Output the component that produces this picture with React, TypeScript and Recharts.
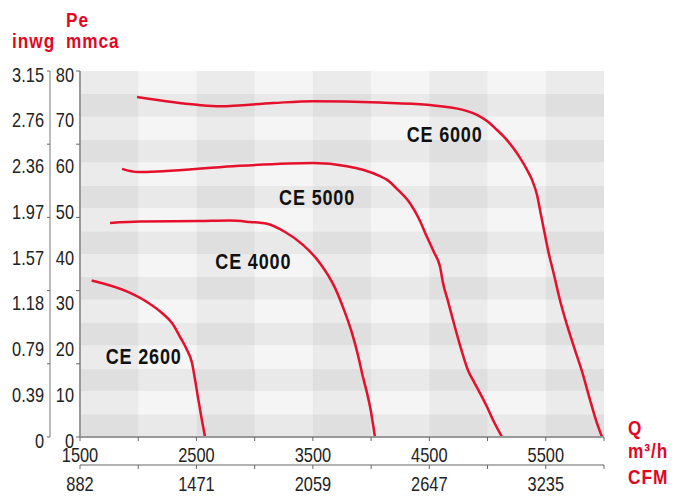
import React from 'react'
import { ComposedChart, Line, XAxis, YAxis, ReferenceArea, ReferenceDot } from 'recharts'

const FONT = "'Liberation Sans', Arial, sans-serif"
const RED = '#e3061f'
const CURVE = '#e4102c'

// flow ticks (m3/h), every 500, labels every 1000
const qTicks = [1500, 2000, 2500, 3000, 3500, 4000, 4500, 5000, 5500, 6000]
const qLabels = ['1500', '2500', '3500', '4500', '5500']
const cfmLabels = ['882', '1471', '2059', '2647', '3235']

// pressure ticks (mmca) with inwg equivalents
const mmLabels = ['0', '10', '20', '30', '40', '50', '60', '70', '80']
const inwgLabels = ['0', '0.39', '0.79', '1.18', '1.57', '1.97', '2.36', '2.76', '3.15']
const mmMarks = [0, 16, 32, 48, 64, 80]

const ce2600 = [
    { q: 1600, p: 34.2 }, { q: 1912, p: 31.7 }, { q: 2075, p: 29.5 }, { q: 2204, p: 27.1 },
    { q: 2290, p: 24.9 }, { q: 2359, p: 21.9 }, { q: 2419, p: 19.0 }, { q: 2462, p: 16.2 },
    { q: 2488, p: 12.5 }, { q: 2513, p: 8.7 }, { q: 2539, p: 4.8 }, { q: 2574, p: 0 },
]
const ce4000 = [
    { q: 1758, p: 46.8 }, { q: 2015, p: 47.1 }, { q: 2531, p: 47.2 }, { q: 2788, p: 47.3 },
    { q: 2960, p: 47.0 }, { q: 3106, p: 46.6 }, { q: 3261, p: 44.8 }, { q: 3415, p: 42.0 },
    { q: 3561, p: 38.0 }, { q: 3690, p: 32.6 }, { q: 3767, p: 27.8 }, { q: 3836, p: 22.7 },
    { q: 3887, p: 17.9 }, { q: 3930, p: 13.1 }, { q: 3965, p: 9.6 }, { q: 3991, p: 6.6 },
    { q: 4033, p: 0 },
]
const ce5000 = [
    { q: 1861, p: 58.6 }, { q: 1998, p: 57.9 }, { q: 2213, p: 58.1 }, { q: 2814, p: 59.2 },
    { q: 3501, p: 59.9 }, { q: 3793, p: 59.2 }, { q: 3930, p: 58.4 }, { q: 4076, p: 57.0 },
    { q: 4137, p: 56.2 }, { q: 4231, p: 54.0 }, { q: 4334, p: 51.1 }, { q: 4411, p: 47.7 },
    { q: 4480, p: 43.7 }, { q: 4540, p: 40.4 }, { q: 4592, p: 37.2 }, { q: 4617, p: 33.7 },
    { q: 4660, p: 29.7 }, { q: 4703, p: 25.6 }, { q: 4763, p: 20.1 }, { q: 4832, p: 14.6 },
    { q: 4884, p: 12.0 }, { q: 4935, p: 9.6 }, { q: 4995, p: 6.6 }, { q: 5047, p: 3.7 },
    { q: 5124, p: 0 },
]
const ce6000 = [
    { q: 1990, p: 74.3 }, { q: 2505, p: 72.6 }, { q: 2702, p: 72.3 }, { q: 3157, p: 73.0 },
    { q: 3501, p: 73.4 }, { q: 4076, p: 73.1 }, { q: 4480, p: 72.6 }, { q: 4789, p: 71.5 },
    { q: 4909, p: 70.4 }, { q: 5004, p: 68.9 }, { q: 5081, p: 67.1 }, { q: 5150, p: 65.4 },
    { q: 5219, p: 63.2 }, { q: 5279, p: 61.0 }, { q: 5339, p: 58.4 }, { q: 5382, p: 56.2 },
    { q: 5425, p: 52.9 }, { q: 5459, p: 48.5 }, { q: 5493, p: 44.2 }, { q: 5519, p: 40.9 },
    { q: 5571, p: 35.4 }, { q: 5622, p: 29.9 }, { q: 5682, p: 24.5 }, { q: 5751, p: 19.0 },
    { q: 5820, p: 13.6 }, { q: 5880, p: 8.1 }, { q: 5931, p: 3.7 }, { q: 5983, p: 0 },
]

const curveLabels = [
    { name: 'CE 2600', q: 2047, p: 17.8 },
    { name: 'CE 4000', q: 2988, p: 38.4 },
    { name: 'CE 5000', q: 3536, p: 52.4 },
    { name: 'CE 6000', q: 4631, p: 66.2 },
]

const rows = Array.from({ length: 16 }, (_, i) => i * 5)
const cols = qTicks.slice(0, -1)

const allYTicks = Array.from(new Set([...mmLabels.map(Number), ...mmMarks])).sort((a, b) => a - b)

// narrow text: Liberation Sans squeezed horizontally
function NText({ x, y, anchor = 'start', size = 20, weight = 400, fill = '#222', ls = 0, children }: any) {
    return (
        <text transform={`translate(${x} ${y}) scale(0.82 1)`} textAnchor={anchor} fontFamily={FONT}
            fontSize={size} fontWeight={weight} fill={fill} letterSpacing={ls}>
            {children}
        </text>
    )
}

function makeYTick(labels: string[], markLen: number) {
    return (props: any) => {
        const { x, y, payload } = props
        const v = payload.value
        const idx = mmLabels.indexOf(String(v))
        return (
            <g>
                {mmMarks.includes(v) && <line x1={x - markLen} x2={x} y1={y} y2={y} stroke="#666" strokeWidth={1} />}
                {idx >= 0 && <NText x={x - 6} y={y + 10.5} anchor="end">{labels[idx]}</NText>}
            </g>
        )
    }
}

function makeXTick(labels: string[], dy: number) {
    return (props: any) => {
        const { x, y, payload } = props
        const v = payload.value
        const idx = (v - 1500) % 1000 === 0 ? (v - 1500) / 1000 : -1
        return (
            <g>
                <line x1={x} x2={x} y1={y} y2={y + 4} stroke="#666" strokeWidth={1} />
                {idx >= 0 && idx < labels.length && <NText x={x} y={y + dy} anchor="middle">{labels[idx]}</NText>}
            </g>
        )
    }
}

export default function App() {
    return (
        <div style={{ position: 'relative', width: 674, height: 488 }}>
            <ComposedChart width={674} height={488} margin={{ top: 63, right: 78, left: 0, bottom: 0 }}>
                <XAxis xAxisId="x0" dataKey="q" type="number" domain={[1500, 6000]} allowDataOverflow
                    ticks={qTicks} interval={0} height={28} tickSize={0} tickMargin={0} tickLine={false}
                    axisLine={{ stroke: '#999', strokeWidth: 2 }} tick={makeXTick(qLabels, 25)} />
                <XAxis xAxisId="x1" dataKey="q" type="number" domain={[1500, 6000]} allowDataOverflow
                    ticks={qTicks} interval={0} height={31} tickSize={0} tickMargin={0} tickLine={false}
                    axisLine={{ stroke: '#999', strokeWidth: 1.5 }} tick={makeXTick(cfmLabels, 26)} />
                <YAxis yAxisId="y0" type="number" domain={[0, 80]} allowDataOverflow ticks={allYTicks}
                    interval={0} width={30} tickSize={0} tickMargin={0} tickLine={false}
                    axisLine={{ stroke: '#999', strokeWidth: 2 }} tick={makeYTick(mmLabels, 4)} />
                <YAxis yAxisId="y1" type="number" domain={[0, 80]} allowDataOverflow ticks={allYTicks}
                    interval={0} width={42} tickSize={0} tickMargin={0} tickLine={false}
                    axisLine={{ stroke: '#777', strokeWidth: 1 }} tick={makeYTick(inwgLabels, 3)} />

                {rows.map((r, i) => (
                    <ReferenceArea key={'r' + r} xAxisId="x0" yAxisId="y0" x1={1500} x2={6000} y1={r} y2={r + 5}
                        fill={i % 2 === 0 ? '#e9e9e9' : '#f5f5f5'} fillOpacity={1} stroke="none" />
                ))}
                {cols.map((c, i) => i % 2 === 0 ? (
                    <ReferenceArea key={'c' + c} xAxisId="x0" yAxisId="y0" x1={c} x2={c + 500} y1={0} y2={80}
                        fill="#000" fillOpacity={0.04} stroke="none" />
                ) : null)}

                {[ce2600, ce4000, ce5000, ce6000].map((d, i) => (
                    <Line key={i} xAxisId="x0" yAxisId="y0" data={d} dataKey="p" type="monotone"
                        stroke={CURVE} strokeWidth={2.5} dot={false} isAnimationActive={false} />
                ))}

                {curveLabels.map((l) => (
                    <ReferenceDot key={l.name} xAxisId="x0" yAxisId="y0" x={l.q} y={l.p} r={0}
                        shape={(p: any) => (
                            <NText x={p.cx} y={p.cy + 8} anchor="middle" size={22} weight={700} fill="#111" ls={1}>
                                {l.name}
                            </NText>
                        )} />
                ))}
            </ComposedChart>
            <svg width={674} height={488} style={{ position: 'absolute', left: 0, top: 0, pointerEvents: 'none' }}>
                <NText x={58} y={19} size={21} weight={700} fill={RED} ls={1.2}>Pe</NText>
                <NText x={4} y={40} size={21} weight={700} fill={RED} ls={1.2}>inwg</NText>
                <NText x={58} y={40} size={21} weight={700} fill={RED} ls={1.2}>mmca</NText>
                <NText x={620} y={427} size={21} weight={700} fill={RED} ls={1.2}>Q</NText>
                <NText x={620} y={450} size={21} weight={700} fill={RED} ls={1.2}>m³/h</NText>
                <NText x={620} y={476} size={21} weight={700} fill={RED} ls={1.2}>CFM</NText>
            </svg>
        </div>
    )
}
